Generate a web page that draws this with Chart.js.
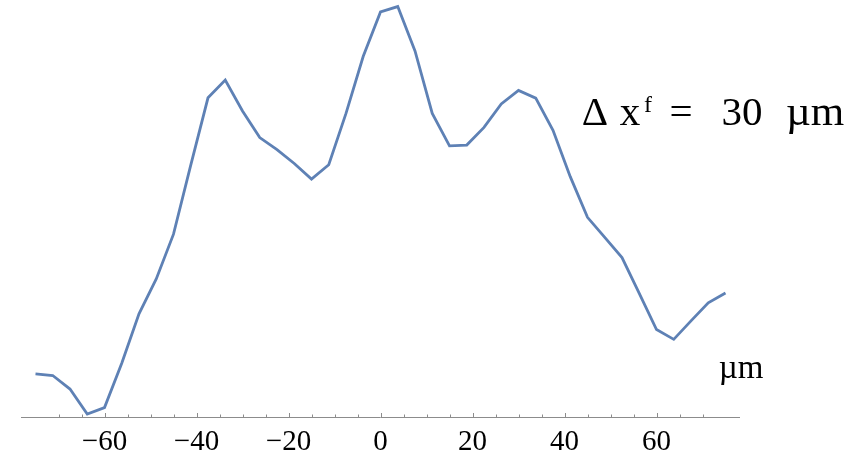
<!DOCTYPE html>
<html>
<head>
<meta charset="utf-8">
<script src="https://cdn.jsdelivr.net/npm/chart.js@4"></script>
<style>
  html, body { margin: 0; padding: 0; background: #fff; }
</style>
</head>
<body>
<canvas id="profile" width="867" height="455"></canvas>
<script>
// transverse position (µm) and normalised intensity
const positions = [-75, -71.25, -67.5, -63.75, -60, -56.25, -52.5, -48.75, -45, -41.25,
                   -37.5, -33.75, -30, -26.25, -22.5, -18.75, -15, -11.25, -7.5, -3.75,
                   0, 3.75, 7.5, 11.25, 15, 18.75, 22.5, 26.25, 30, 33.75,
                   37.5, 41.25, 45, 48.75, 52.5, 56.25, 60, 63.75, 67.5, 71.25, 75];
const intensity = [0.105, 0.101, 0.068, 0.007, 0.023, 0.131, 0.251, 0.336, 0.445, 0.613,
                   0.777, 0.820, 0.745, 0.680, 0.651, 0.617, 0.579, 0.614, 0.739, 0.878,
                   0.986, 0.999, 0.891, 0.739, 0.660, 0.662, 0.705, 0.762, 0.795, 0.776,
                   0.698, 0.585, 0.486, 0.437, 0.388, 0.301, 0.213, 0.189, 0.234, 0.278, 0.302];
const labeledTicks = [-60, -40, -20, 0, 20, 40, 60];
const axisUnit = 'µm';

const serif = "'Liberation Serif', 'DejaVu Serif', serif";
const axisGray = '#8c8c8c';

// small inward tick marks, longer on the labelled ones
const tickMarks = {
    id: 'tickMarks',
    afterDraw(chart) {
        const xs = chart.scales.x;
        const ctx = chart.ctx;
        const y0 = chart.chartArea.bottom;
        ctx.save();
        ctx.strokeStyle = axisGray;
        ctx.lineWidth = 1;
        xs.ticks.forEach(t => {
            const px = Math.round(xs.getPixelForValue(t.value)) + 0.5;
            const len = labeledTicks.includes(t.value) ? 4 : 2.5;
            ctx.beginPath();
            ctx.moveTo(px, y0);
            ctx.lineTo(px, y0 - len);
            ctx.stroke();
        });
        ctx.restore();
    }
};

// unit label and the Δx^f note
const notes = {
    id: 'notes',
    afterDraw(chart) {
        const ctx = chart.ctx;
        ctx.save();
        ctx.fillStyle = '#000';
        ctx.textBaseline = 'alphabetic';
        ctx.textAlign = 'center';

        ctx.font = '33px ' + serif;
        ctx.fillText(axisUnit, 741, 378);

        ctx.font = '41px ' + serif;
        ctx.fillText('Δ', 595, 125);
        ctx.fillText('x', 630, 125);
        ctx.fillText('=', 681, 125);
        ctx.fillText('30', 742, 125);
        ctx.font = '43px ' + serif;
        ctx.fillText('µm', 815, 125);
        ctx.font = '24px ' + serif;
        ctx.fillText('f', 648, 112);
        ctx.restore();
    }
};

const fmt = v => (v < 0 ? '\u2212' + Math.abs(v) : String(v));

new Chart(document.getElementById('profile'), {
    type: 'line',
    data: {
        datasets: [{
            data: positions.map((x, i) => ({ x: x, y: intensity[i] })),
            borderColor: '#5e81b5',
            borderWidth: 2.8,
            pointRadius: 0,
            tension: 0,
            fill: false,
            clip: false
        }]
    },
    options: {
        responsive: false,
        animation: false,
        layout: { padding: { left: 21.7, right: 127.7, top: 0, bottom: 0 } },
        plugins: { legend: { display: false }, tooltip: { enabled: false } },
        scales: {
            x: {
                type: 'linear',
                min: -78,
                max: 78,
                grid: { display: false, drawTicks: false },
                border: { display: true, color: axisGray, width: 1 },
                ticks: {
                    stepSize: 5,
                    autoSkip: false,
                    maxRotation: 0,
                    padding: 8,
                    color: '#000',
                    font: { family: serif, size: 29 },
                    callback: v => labeledTicks.includes(v) ? fmt(v) : ''
                },
                afterBuildTicks: axis => {
                    axis.ticks = axis.ticks.filter(t => t.value % 5 === 0);
                },
                afterFit: s => { s.height = 38; }
            },
            y: { display: false, min: 0, max: 1.015 }
        }
    },
    plugins: [tickMarks, notes]
});
</script>
</body>
</html>
